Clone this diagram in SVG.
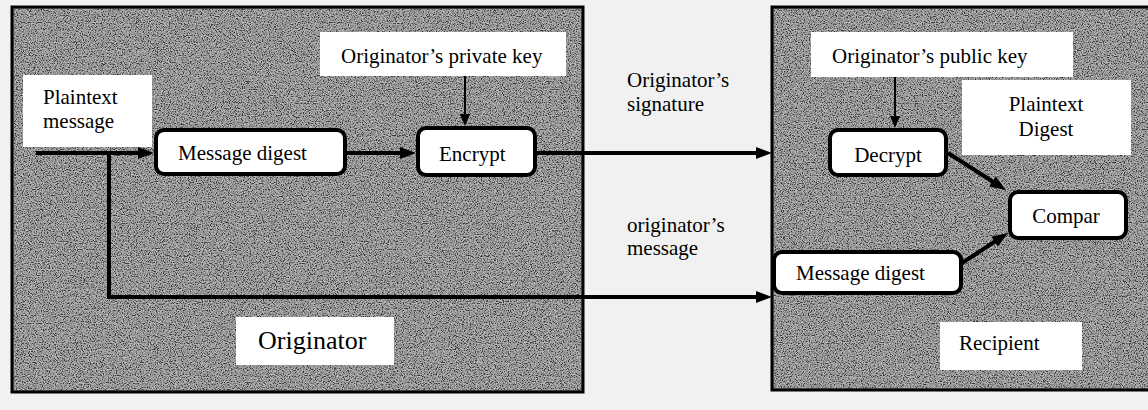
<svg xmlns="http://www.w3.org/2000/svg" width="1148" height="410" viewBox="0 0 1148 410">
  <defs>
    <filter id="grain" x="0" y="0" width="100%" height="100%">
      <feTurbulence type="fractalNoise" baseFrequency="0.85" numOctaves="2" seed="7" result="n"/>
      <feColorMatrix in="n" type="matrix" values="1 0 0 0 0  1 0 0 0 0  1 0 0 0 0  0 0 0 0 1" result="g"/>
      <feComponentTransfer in="g" result="c">
        <feFuncR type="linear" slope="2.8" intercept="-0.95"/>
        <feFuncG type="linear" slope="2.8" intercept="-0.95"/>
        <feFuncB type="linear" slope="2.8" intercept="-0.95"/>
      </feComponentTransfer>
      <feComposite in="c" in2="SourceGraphic" operator="in"/>
    </filter>
    <marker id="ah" markerUnits="userSpaceOnUse" markerWidth="16" markerHeight="12" refX="10" refY="6" orient="auto">
      <path d="M0,0 L16,6 L0,12 z" fill="#000"/>
    </marker>
    <marker id="ahs" markerUnits="userSpaceOnUse" markerWidth="12" markerHeight="10" refX="9" refY="5" orient="auto">
      <path d="M0,0 L12,5 L0,10 z" fill="#000"/>
    </marker>
    <style>
      .panel { fill: #7a7a7a; stroke: #000; stroke-width: 3; }
      .grain { opacity: 0.5; }
      .lbl { fill: #fff; stroke: none; }
      .box { fill: #fff; stroke: #000; stroke-width: 4; }
      text { font-family: "Liberation Serif", "Times New Roman", serif; font-size: 21px; fill: #000; }
      .big { font-size: 26px; }
      .thick { fill: none; stroke: #000; stroke-width: 4; marker-end: url(#ah); }
      .thin { fill: none; stroke: #000; stroke-width: 2; marker-end: url(#ahs); }
    </style>
  </defs>

  <rect x="0" y="0" width="1148" height="410" fill="#f1f1f1"/>

  <g id="originator-panel">
    <rect class="panel" x="12" y="7" width="571" height="385"/>
    <rect class="grain" x="14" y="9" width="567" height="381" fill="#888" filter="url(#grain)"/>
  </g>
  <g id="recipient-panel">
    <rect class="panel" x="772" y="7" width="380" height="383"/>
    <rect class="grain" x="774" y="9" width="374" height="379" fill="#888" filter="url(#grain)"/>
  </g>

  <g id="connectors">
    <line class="thick" x1="36" y1="153" x2="148" y2="153"/>
    <polyline class="thick" points="109,153 109,297 766,297"/>
    <line class="thick" x1="347" y1="153" x2="410" y2="153"/>
    <line class="thick" x1="537" y1="153" x2="766" y2="153"/>
    <line class="thin" x1="465" y1="76" x2="465" y2="123"/>
    <line class="thin" x1="895" y1="77" x2="895" y2="125"/>
    <line class="thick" x1="948" y1="153" x2="1000.9" y2="186.8"/>
    <line class="thick" x1="962" y1="263" x2="1003" y2="236.3"/>
  </g>

  <g id="plaintext-message">
    <rect class="lbl" x="23" y="75" width="129" height="72"/>
    <text x="43" y="104">Plaintext</text>
    <text x="43" y="128">message</text>
  </g>

  <g id="message-digest-left">
    <rect class="box" x="156" y="130" width="189" height="44" rx="8"/>
    <text x="178" y="160">Message digest</text>
  </g>

  <g id="private-key">
    <rect class="lbl" x="320" y="32" width="246" height="44"/>
    <text x="341" y="63">Originator’s private key</text>
  </g>

  <g id="encrypt">
    <rect class="box" x="418" y="128" width="117" height="47" rx="8"/>
    <text x="439" y="161">Encrypt</text>
  </g>

  <g id="originator-label">
    <rect class="lbl" x="236" y="317" width="158" height="48"/>
    <text class="big" x="258" y="349">Originator</text>
  </g>

  <g id="signature-label">
    <text x="627" y="87">Originator’s</text>
    <text x="627" y="111">signature</text>
  </g>

  <g id="message-label">
    <text x="627" y="232">originator’s</text>
    <text x="627" y="255">message</text>
  </g>

  <g id="public-key">
    <rect class="lbl" x="811" y="32" width="262" height="45"/>
    <text x="832" y="63">Originator’s public key</text>
  </g>

  <g id="plaintext-digest">
    <rect class="lbl" x="962" y="80" width="169" height="75"/>
    <text x="1046" y="111" text-anchor="middle">Plaintext</text>
    <text x="1046" y="136" text-anchor="middle">Digest</text>
  </g>

  <g id="decrypt">
    <rect class="box" x="830" y="130" width="116" height="45" rx="8"/>
    <text x="888" y="162" text-anchor="middle">Decrypt</text>
  </g>

  <g id="compar">
    <rect class="box" x="1010" y="192" width="116" height="46" rx="8"/>
    <text x="1066" y="223" text-anchor="middle">Compar</text>
  </g>

  <g id="message-digest-right">
    <rect class="box" x="774" y="252" width="187" height="41" rx="8"/>
    <text x="796" y="280">Message digest</text>
  </g>

  <g id="recipient-label">
    <rect class="lbl" x="940" y="322" width="142" height="48"/>
    <text x="959" y="350">Recipient</text>
  </g>
</svg>
